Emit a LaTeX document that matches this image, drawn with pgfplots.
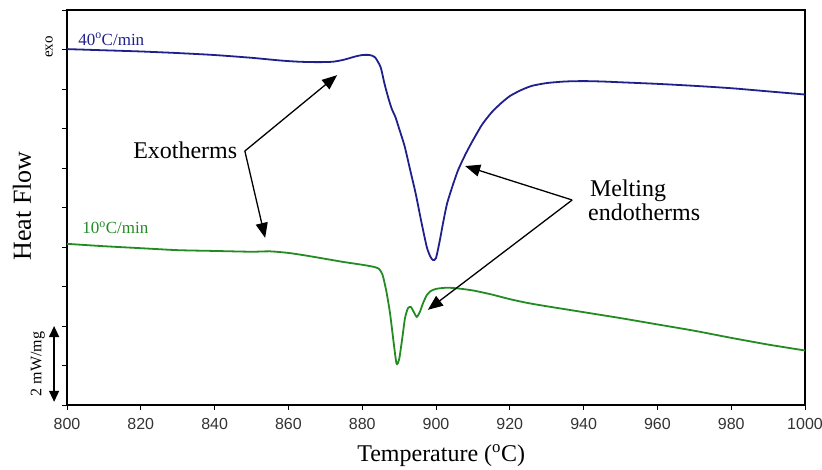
\documentclass[border=0pt]{standalone}
\usepackage{pgfplots}
\pgfplotsset{compat=1.18}
\usepackage{fontspec}
\setmainfont{Liberation Serif}
\newfontfamily\arialf{Liberation Sans}
\usetikzlibrary{arrows.meta}
\definecolor{bluec}{RGB}{32,32,140}
\definecolor{greenc}{RGB}{34,140,34}
\begin{document}
\begin{tikzpicture}
\path[use as bounding box] (-67bp,-65bp) rectangle (755bp,405bp);
\begin{axis}[
  at={(0,0)}, anchor=south west,
  scale only axis, width=738bp, height=395bp,
  xmin=800, xmax=1000, ymin=0, ymax=10,
  xtick={800,820,...,1000}, ytick={0,1,...,10}, yticklabels={},
  tick pos=left, tick align=outside,
  major tick length=5bp,
  every tick/.style={black, line width=0.8bp},
  axis line style={black, line width=1.3bp},
  /pgf/number format/assume math mode=true,
  /pgf/number format/1000 sep={},
  xticklabel style={font=\arialf\fontsize{16bp}{18bp}\selectfont, text=black!80, yshift=-5bp},
  clip=false,
]
\addplot[bluec, line width=1.8bp, smooth, tension=0.4] coordinates {
(800,9.01) (810,8.98) (820,8.95) (830,8.91) (840,8.86) (850,8.79) (858,8.72) (863,8.69)
(868,8.68) (872,8.69) (875,8.74) (878,8.82) (880,8.86) (882,8.86) (883.5,8.80) (885,8.55)
(886,8.15) (887,7.80) (888,7.50) (889,7.29) (890,7.0) (891.5,6.55) (893,5.95) (894.5,5.35)
(896,4.65) (897.5,4.00) (898.5,3.75) (899.2,3.67) (900,3.72) (901,4.15) (902,4.65) (903,5.10)
(904.5,5.55) (906,5.95) (908,6.35) (910,6.70) (912.5,7.10) (915,7.40) (917.5,7.63) (920,7.82)
(923,7.97) (926,8.08) (930,8.15) (935,8.19) (940,8.20) (945,8.19) (950,8.17) (960,8.13)
(970,8.08) (980,8.02) (990,7.94) (1000,7.86)
};
\addplot[greenc, line width=1.8bp, smooth, tension=0.4] coordinates {
(800,4.08) (810,4.02) (820,3.97) (830,3.92) (840,3.90) (850,3.88) (855,3.89) (860,3.85)
(865,3.78) (870,3.70) (875,3.62) (880,3.55) (883,3.50) (884.5,3.45) (885.5,3.30) (886.5,2.90)
(887.5,2.35) (888.5,1.60) (889.3,1.05) (890,1.15) (890.8,1.65) (891.6,2.20) (892.4,2.45)
(893.2,2.48) (894,2.35) (894.8,2.23) (895.6,2.35) (896.5,2.58) (897.5,2.78) (898.5,2.88)
(900,2.94) (903,2.97) (906,2.95) (910,2.90) (915,2.80) (920,2.68) (925,2.58) (930,2.50)
(940,2.35) (950,2.20) (960,2.04) (970,1.88) (980,1.70) (990,1.53) (1000,1.38)
};
% labels
\node[anchor=base west, inner sep=0, text=bluec, font=\fontsize{17bp}{19bp}\selectfont] at (axis cs:803,9.11) {40\textsuperscript{o}C/min};
\node[anchor=base west, inner sep=0, text=greenc, font=\fontsize{17bp}{19bp}\selectfont] at (axis cs:804.1,4.33) {10\textsuperscript{o}C/min};
\node[rotate=90, inner sep=0, font=\fontsize{15bp}{17bp}\selectfont] at (axis cs:795.2,9.06) {exo};
\node[rotate=90, inner sep=0, font=\fontsize{26bp}{28bp}\selectfont] at (axis cs:787.8,5.04) {Heat Flow};
\node[rotate=90, inner sep=0, font=\fontsize{16bp}{18bp}\selectfont] at (axis cs:792.1,1.04) {2 mW/mg};
\draw[black, line width=1.3bp, {Triangle[length=11bp,width=10bp]}-{Triangle[length=11bp,width=10bp]}] (axis cs:796.5,0.08) -- (axis cs:796.5,2.0);
\node[anchor=base, inner sep=0, font=\fontsize{24bp}{26bp}\selectfont] at (axis cs:901.4,-1.42) {Temperature (\textsuperscript{o}C)};
% annotations
\node[anchor=base west, inner sep=0, font=\fontsize{24bp}{26bp}\selectfont] at (axis cs:817.9,6.23) {Exotherms};
\node[anchor=base west, inner sep=0, font=\fontsize{24bp}{26bp}\selectfont] at (axis cs:941.7,5.29) {Melting};
\node[anchor=base west, inner sep=0, font=\fontsize{24bp}{26bp}\selectfont] at (axis cs:941.2,4.68) {endotherms};
\draw[black, line width=1.3bp, -{Triangle[length=15bp,width=12bp]}] (axis cs:848.2,6.43) -- (axis cs:873.2,8.35);
\draw[black, line width=1.3bp, -{Triangle[length=15bp,width=12bp]}] (axis cs:848.2,6.43) -- (axis cs:853.7,4.23);
\draw[black, line width=1.3bp, -{Triangle[length=15bp,width=12bp]}] (axis cs:936.9,5.19) -- (axis cs:907.9,6.05);
\draw[black, line width=1.3bp, -{Triangle[length=15bp,width=12bp]}] (axis cs:936.9,5.19) -- (axis cs:897.8,2.41);
\end{axis}
\end{tikzpicture}
\end{document}
